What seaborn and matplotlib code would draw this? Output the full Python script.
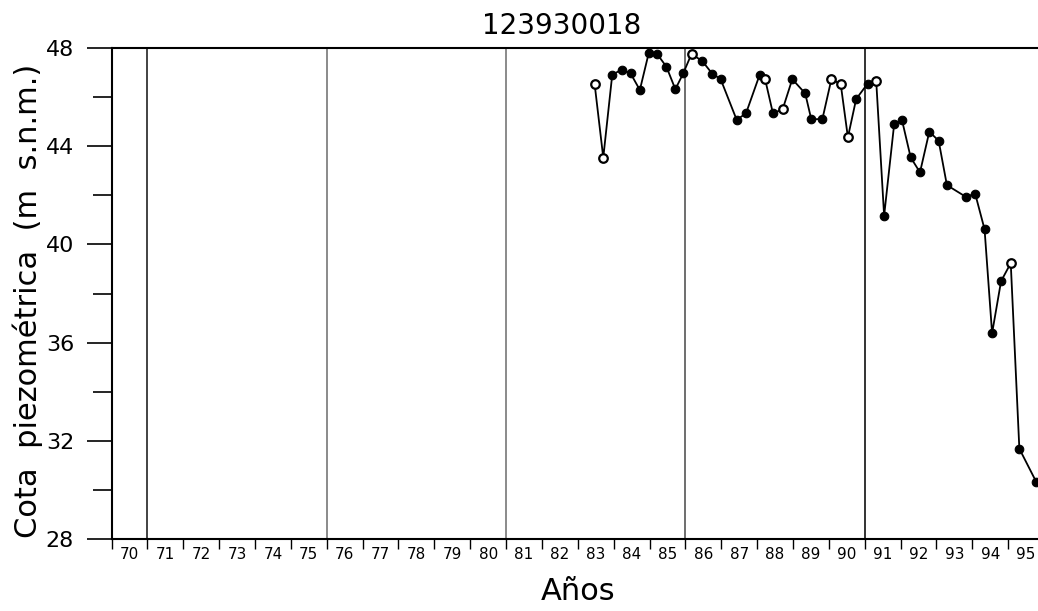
import numpy as np
import pandas as pd
import matplotlib
matplotlib.use("Agg")
import matplotlib.pyplot as plt
from matplotlib.ticker import FixedLocator, NullFormatter, FixedFormatter
import seaborn as sns

# --- data ---
station = "123930018"

fecha = [1983.47, 1983.71, 1983.96, 1984.22, 1984.47, 1984.73, 1984.98, 1985.21,
         1985.47, 1985.72, 1985.94, 1986.17, 1986.47, 1986.75, 1986.98, 1987.43,
         1987.69, 1988.07, 1988.22, 1988.44, 1988.71, 1988.98, 1989.34, 1989.51,
         1989.82, 1990.07, 1990.33, 1990.53, 1990.76, 1991.08, 1991.32, 1991.54,
         1991.82, 1992.04, 1992.28, 1992.54, 1992.80, 1993.06, 1993.29, 1993.81,
         1994.08, 1994.34, 1994.55, 1994.80, 1995.07, 1995.31, 1995.78]
cota = [46.53, 43.54, 46.92, 47.13, 46.98, 46.30, 47.82, 47.77,
        47.25, 46.33, 46.98, 47.77, 47.48, 46.96, 46.75, 45.08,
        45.35, 46.92, 46.75, 45.35, 45.51, 46.74, 46.16, 45.10,
        45.12, 46.74, 46.54, 44.37, 45.93, 46.56, 46.65, 41.17,
        44.91, 45.06, 43.55, 42.94, 44.60, 44.23, 42.42, 41.95,
        42.06, 40.62, 36.38, 38.50, 39.24, 31.67, 30.32]
# 1 = hollow marker in the original
hueco = [1, 1, 0, 0, 0, 0, 0, 0,
         0, 0, 0, 1, 0, 0, 0, 0,
         0, 0, 1, 0, 1, 0, 0, 0,
         0, 1, 1, 1, 0, 0, 1, 0,
         0, 0, 0, 0, 0, 0, 0, 0,
         0, 0, 0, 0, 1, 0, 0]

anios = [1970, 1971, 1972, 1973, 1974, 1975, 1976, 1977, 1978, 1979, 1980, 1981, 1982,
         1983, 1984, 1985, 1986, 1987, 1988, 1989, 1990, 1991, 1992, 1993, 1994, 1995]
anio_labels = ["70", "71", "72", "73", "74", "75", "76", "77", "78", "79", "80", "81", "82",
               "83", "84", "85", "86", "87", "88", "89", "90", "91", "92", "93", "94", "95"]
lineas_v = [1971, 1976, 1981, 1986, 1991]
color_v = ["#222222", "#777777", "#777777", "#555555", "#111111"]

y_major = [28, 32, 36, 40, 44, 48]
y_minor = [30, 34, 38, 42, 46]

df = pd.DataFrame({"fecha": fecha, "cota": cota, "hueco": hueco})

sns.set_style("white")
plt.rcParams["font.family"] = ["DejaVu Sans"]
plt.rcParams["text.color"] = "black"
plt.rcParams["xtick.color"] = "black"
plt.rcParams["ytick.color"] = "black"

fig = plt.figure(figsize=(10.38, 6.11), dpi=100)
ax = fig.add_axes([111.5 / 1038, 72.3 / 611, 932.6 / 1038, 490.4 / 611])

for xv, c in zip(lineas_v, color_v):
    ax.axvline(xv, color=c, lw=1.2, zorder=1)

sns.lineplot(data=df, x="fecha", y="cota", color="black", lw=1.3, ax=ax,
             estimator=None, sort=False, zorder=3)
llenos = df[df["hueco"] == 0]
vacios = df[df["hueco"] == 1]
sns.scatterplot(data=llenos, x="fecha", y="cota", color="black", s=38,
                edgecolor="black", linewidth=0.8, ax=ax, zorder=4)
sns.scatterplot(data=vacios, x="fecha", y="cota", color="white", s=38,
                edgecolor="black", linewidth=1.6, ax=ax, zorder=4)

ax.set_xlim(anios[0], anios[-1] + 1)
ax.set_ylim(y_major[0], y_major[-1])

# year boundaries get small ticks, labels sit in the middle of each year
ax.xaxis.set_major_locator(FixedLocator(anios))
ax.xaxis.set_major_formatter(NullFormatter())
ax.xaxis.set_minor_locator(FixedLocator([a + 0.5 for a in anios]))
ax.xaxis.set_minor_formatter(FixedFormatter(anio_labels))
ax.tick_params(axis="x", which="major", bottom=True, direction="out", length=7,
               width=1, color="black")
ax.tick_params(axis="x", which="minor", bottom=True, length=0, labelsize=11, pad=6,
               labelcolor="black")

ax.yaxis.set_major_locator(FixedLocator(y_major))
ax.yaxis.set_minor_locator(FixedLocator(y_minor))
ax.tick_params(axis="y", which="major", left=True, direction="out", length=18, width=1.2,
               labelsize=16, pad=9, color="black", labelcolor="black")
ax.tick_params(axis="y", which="minor", left=True, direction="out", length=14, width=1.2,
               color="black")

for s in ["left", "bottom", "top", "right"]:
    ax.spines[s].set_color("black")
    ax.spines[s].set_linewidth(1.5)

ax.set_xlabel("")
ax.set_ylabel("")
fig.text(28 / 1038, 1 - 301 / 611, "Cota  piezométrica  (m  s.n.m.)", rotation=90,
         ha="center", va="center", fontsize=22)
fig.text(578 / 1038, 1 - 592 / 611, "Años", ha="center", va="center", fontsize=22)
fig.text(562 / 1038, 1 - 26 / 611, station, ha="center", va="center", fontsize=20)

fig.savefig("out.png", dpi=100)
